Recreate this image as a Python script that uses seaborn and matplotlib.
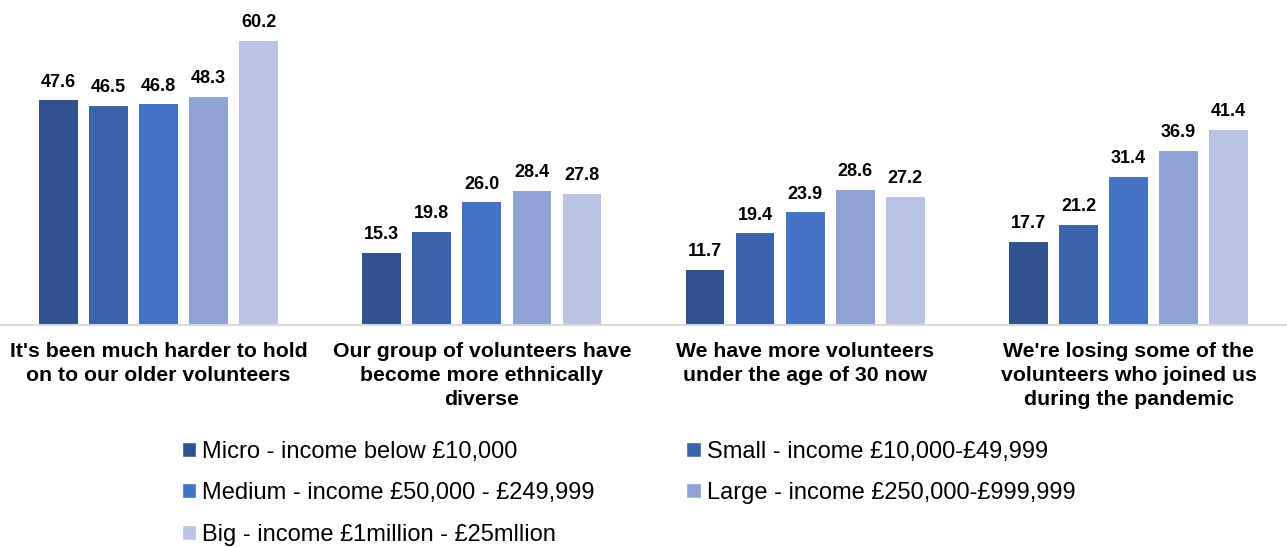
import pandas as pd
import numpy as np
import matplotlib.pyplot as plt
import seaborn as sns
from matplotlib.patches import Patch

# -------------------------
# Data
# -------------------------
statements = [
    "It's been much harder to hold\non to our older volunteers",
    "Our group of volunteers have\nbecome more ethnically\ndiverse",
    "We have more volunteers\nunder the age of 30 now",
    "We're losing some of the\nvolunteers who joined us\nduring the pandemic",
]
sizes = [
    "Micro - income below £10,000",
    "Small - income £10,000-£49,999",
    "Medium - income £50,000 - £249,999",
    "Large - income £250,000-£999,999",
    "Big - income £1million - £25mllion",
]
micro = [47.6, 15.3, 11.7, 17.7]
small = [46.5, 19.8, 19.4, 21.2]
medium = [46.8, 26.0, 23.9, 31.4]
large = [48.3, 28.4, 28.6, 36.9]
big = [60.2, 27.8, 27.2, 41.4]
colors = ["#2F528F", "#3A63AC", "#4472C4", "#8FA3D4", "#B9C3E3"]

rows = []
for size, vals in zip(sizes, [micro, small, medium, large, big]):
    for st, v in zip(statements, vals):
        rows.append({"Statement": st, "Size": size, "Value": v})
df = pd.DataFrame(rows)

# -------------------------
# Plot
# -------------------------
sns.set_style("white")
plt.rcParams["font.family"] = ["Liberation Sans", "DejaVu Sans"]
plt.rcParams["text.color"] = "black"

fig = plt.figure(figsize=(12.87, 5.47), dpi=100)
ax = fig.add_axes([0.0, 1 - 325 / 547, 1.0, 325 / 547])

sns.barplot(data=df, x="Statement", y="Value", hue="Size", order=statements,
            hue_order=sizes, palette=colors, width=0.774, gap=0.226,
            saturation=1, linewidth=0, legend=False, ax=ax, errorbar=None)

for c in ax.containers:
    ax.bar_label(c, fmt="%.1f", padding=7, fontsize=13, fontweight="bold",
                 color="black")

ax.set_ylim(0, 68.9)
ax.set_xlim(-0.49, 3.49)
ax.set_xlabel("")
ax.set_ylabel("")
ax.set_yticks([])
for s in ["top", "left", "right"]:
    ax.spines[s].set_visible(False)
ax.spines["bottom"].set_color("#D9D9D9")
ax.spines["bottom"].set_linewidth(1.5)
ax.tick_params(axis="x", length=0, pad=12, labelcolor="black")
for lbl in ax.get_xticklabels():
    lbl.set_fontsize(15.3)
    lbl.set_fontweight("bold")
    lbl.set_linespacing(1.33)

# legend in row order: Micro, Small / Medium, Large / Big
order = [0, 2, 4, 1, 3]
handles = [Patch(facecolor=colors[i], label=sizes[i]) for i in order]
fig.legend(handles=handles, loc="upper left", bbox_to_anchor=(170 / 1287, 1 - 429 / 547),
           ncol=2, frameon=False, fontsize=17, handlelength=0.6, handleheight=0.6,
           handletextpad=0.25, columnspacing=3.9, labelspacing=0.82, borderpad=0,
           labelcolor="black")

plt.savefig("out.png", dpi=100)
plt.close()
